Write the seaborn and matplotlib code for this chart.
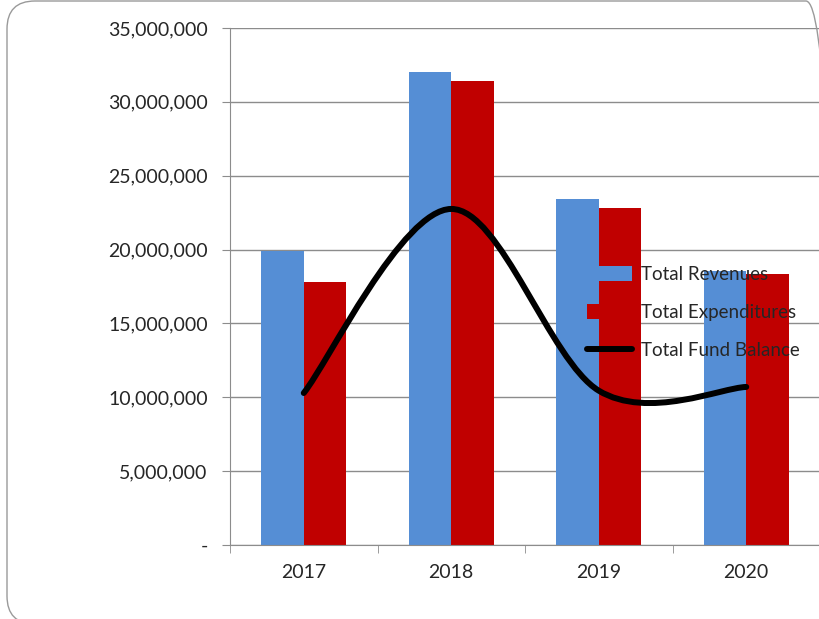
import matplotlib
matplotlib.use("Agg")
import matplotlib.pyplot as plt
import seaborn as sns
import pandas as pd
import numpy as np
from matplotlib.path import Path
from matplotlib.patches import PathPatch, FancyBboxPatch, Patch
from matplotlib.lines import Line2D
from matplotlib.ticker import FuncFormatter
from matplotlib.transforms import IdentityTransform

years = ["2017", "2018", "2019", "2020"]
revenues = [19920000, 32020000, 23420000, 18570000]
expenditures = [17820000, 31410000, 22810000, 18350000]
fund_balance = [10290000, 22750000, 10450000, 10700000]

series_names = ["Total Revenues", "Total Expenditures"]
colors = ["#558ED5", "#C00000"]

sns.set_style("white")
plt.rcParams["font.family"] = ["Lato", "DejaVu Sans"]

df = pd.DataFrame({
    "year": years * 2,
    "value": revenues + expenditures,
    "series": [series_names[0]] * 4 + [series_names[1]] * 4,
})

fig = plt.figure(figsize=(8.2, 6.19), dpi=100)
# rounded outer border (pixel coordinates)
border = FancyBboxPatch((7, -5), 827, 623,
                        boxstyle="round,pad=0,rounding_size=28",
                        transform=IdentityTransform(), fill=False,
                        edgecolor="#9A9A9A", linewidth=1.0)
fig.patches.append(border)

ax = fig.add_axes([0.2805, 0.1195, 0.7195, 0.8353])
sns.barplot(data=df, x="year", y="value", hue="series", palette=colors,
            width=0.576, saturation=1, ax=ax, legend=False, gap=0,
            linewidth=0, edgecolor="none")

# smoothed line (Excel-style bezier through points)
xs = np.arange(len(fund_balance), dtype=float)
ys = np.array(fund_balance, dtype=float)
verts = [(xs[0], ys[0])]
codes = [Path.MOVETO]
n = len(xs)
for i in range(n - 1):
    p0 = np.array([xs[max(i - 1, 0)], ys[max(i - 1, 0)]])
    p1 = np.array([xs[i], ys[i]])
    p2 = np.array([xs[i + 1], ys[i + 1]])
    p3 = np.array([xs[min(i + 2, n - 1)], ys[min(i + 2, n - 1)]])
    c1 = p1 + (p2 - p0) / 6.0
    c2 = p2 - (p3 - p1) / 6.0
    verts += [tuple(c1), tuple(c2), tuple(p2)]
    codes += [Path.CURVE4] * 3
ax.add_patch(PathPatch(Path(verts, codes), facecolor="none", edgecolor="black",
                       linewidth=4.3, capstyle="round", joinstyle="round", zorder=5))

ax.set_xlim(-0.5, 3.5)
ax.set_ylim(0, 35000000)
ax.set_yticks(np.arange(0, 35000001, 5000000))
ax.yaxis.set_major_formatter(FuncFormatter(lambda v, p: "-" if v == 0 else f"{int(v):,}"))
ax.set_xlabel("")
ax.set_ylabel("")
ax.grid(axis="y", color="#8C8C8C", linewidth=1.0)
ax.set_axisbelow(True)
for s in ["top", "right"]:
    ax.spines[s].set_visible(False)
ax.spines["left"].set_color("#8C8C8C")
ax.spines["bottom"].set_color("#8C8C8C")
ax.tick_params(axis="y", length=6, color="#8C8C8C", labelsize=14, pad=10, direction="out", left=True)
ax.tick_params(axis="x", length=0, labelsize=14, pad=14)
ax.set_xticks(range(4))
ax.set_xticklabels(years)
ax.set_xticks(np.arange(-0.5, 3.6, 1.0), minor=True)
ax.tick_params(axis="x", which="minor", length=6, color="#8C8C8C", direction="out", bottom=True)

handles = [Patch(facecolor=colors[0], edgecolor="none"),
           Patch(facecolor=colors[1], edgecolor="none"),
           Line2D([0], [0], color="black", linewidth=4.3, solid_capstyle="round")]
labels = series_names + ["Total Fund Balance"]
leg = ax.legend(handles, labels, loc="center left", bbox_to_anchor=(0.59, 0.449),
                frameon=False, fontsize=13.5, handlelength=2.4, handleheight=0.85,
                handletextpad=0.45, labelspacing=1.12, borderpad=0)
leg.set_zorder(10)

fig.savefig("out.png", dpi=100)
